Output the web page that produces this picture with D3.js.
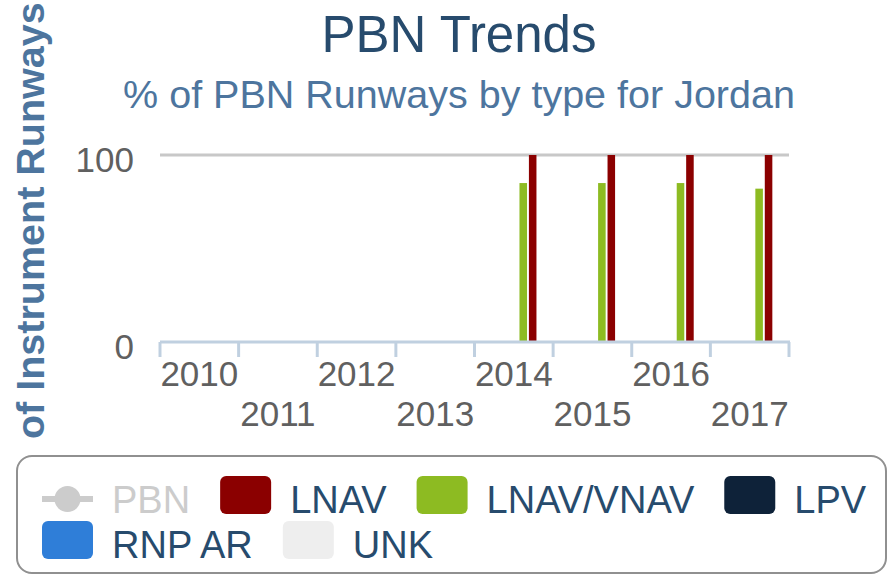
<!DOCTYPE html>
<meta charset="utf-8">
<style>
    body { margin: 0; background: #fff; }
    text { font-family: "Liberation Sans", Arial, sans-serif; }
</style>
<body>
<script src="https://d3js.org/d3.v7.min.js"></script>
<script>

    // chart data
    var years = ["2010", "2011", "2012", "2013", "2014", "2015", "2016", "2017"];
    var lnav = [0, 0, 0, 0, 100, 100, 100, 100];
    var lnavVnav = [0, 0, 0, 0, 85, 85, 85, 82];
    var lpv = [0, 0, 0, 0, 0, 0, 0, 0];
    var rnpAr = [0, 0, 0, 0, 0, 0, 0, 0];
    var unk = [0, 0, 0, 0, 0, 0, 0, 0];
    var yTicks = [0, 100];

    var seriesNames = ["PBN", "LNAV", "LNAV/VNAV", "LPV", "RNP AR", "UNK"];
    var seriesColors = ["#cccccc", "#8b0000", "#8dbb22", "#0e2239", "#2f7ed8", "#eeeeee"];

    // column series, drawn in reverse order like the original
    var columns = [
        { name: "UNK", values: unk, color: "#eeeeee" },
        { name: "RNP AR", values: rnpAr, color: "#2f7ed8" },
        { name: "LPV", values: lpv, color: "#0e2239" },
        { name: "LNAV/VNAV", values: lnavVnav, color: "#8dbb22" },
        { name: "LNAV", values: lnav, color: "#8b0000" }
    ];

    var W = 888, H = 575;
    var plot = { left: 160, right: 789, top: 155, bottom: 342 };

    var svg = d3.select("body").append("svg")
        .attr("width", W)
        .attr("height", H);

    // the chart is cropped, the y title runs out under the legend
    svg.append("clipPath").attr("id", "ytitle-clip")
        .append("rect")
        .attr("x", 0).attr("y", 0)
        .attr("width", 80).attr("height", 446);

    // scales
    var x = d3.scaleBand().domain(years).range([plot.left, plot.right]).padding(0);
    var bw = x.bandwidth();
    var x1 = d3.scaleBand()
        .domain(columns.map(function (c) { return c.name; }))
        .range([bw * 0.2, bw * 0.8])
        .paddingInner(0.2)
        .paddingOuter(0.1);
    var y = d3.scaleLinear().domain([0, 100]).range([plot.bottom, plot.top]);

    // title + subtitle
    svg.append("text")
        .attr("x", 459).attr("y", 52)
        .attr("text-anchor", "middle")
        .style("font-size", "51px")
        .style("fill", "#274b6d")
        .text("PBN Trends");

    svg.append("text")
        .attr("x", 459).attr("y", 108)
        .attr("text-anchor", "middle")
        .style("font-size", "39.5px")
        .style("fill", "#4d759e")
        .text("% of PBN Runways by type for Jordan");

    // y axis title
    var yTitleG = svg.append("g").attr("clip-path", "url(#ytitle-clip)");
    var yTitle = yTitleG.append("text")
        .attr("text-anchor", "start")
        .style("font-size", "39.5px")
        .style("font-weight", "bold")
        .style("fill", "#4d759e")
        .text("% of Instrument Runways");
    var pctW = yTitle.node().getSubStringLength(0, 2);
    yTitle.attr("transform", "translate(44," + (439 + pctW) + ") rotate(-90)");

    // gridlines
    svg.append("g").selectAll("line")
        .data(yTicks.filter(function (d) { return d > 0; }))
        .enter().append("line")
        .attr("x1", plot.left).attr("x2", plot.right)
        .attr("y1", function (d) { return y(d); })
        .attr("y2", function (d) { return y(d); })
        .attr("stroke", "#c8c8c8")
        .attr("stroke-width", 3);

    // y labels
    svg.append("g").selectAll("text")
        .data(yTicks)
        .enter().append("text")
        .attr("x", 134)
        .attr("y", function (d) { return y(d) + 17; })
        .attr("text-anchor", "end")
        .style("font-size", "35px")
        .style("fill", "#606060")
        .text(function (d) { return d; });

    // bars
    columns.forEach(function (c) {
        svg.append("g").selectAll("rect")
            .data(years.map(function (yr, i) { return { yr: yr, v: c.values[i] }; })
                .filter(function (d) { return d.v > 0; }))
            .enter().append("rect")
            .attr("x", function (d) { return x(d.yr) + x1(c.name); })
            .attr("width", x1.bandwidth())
            .attr("y", function (d) { return y(d.v); })
            .attr("height", function (d) { return y(0) - y(d.v); })
            .attr("fill", c.color);
    });

    // x axis line + ticks
    svg.append("line")
        .attr("x1", plot.left).attr("x2", plot.right + 1)
        .attr("y1", plot.bottom).attr("y2", plot.bottom)
        .attr("stroke", "#c0d0e0")
        .attr("stroke-width", 3);

    var tickPos = years.map(function (d) { return x(d); }).concat([plot.right]);
    svg.append("g").selectAll("line")
        .data(tickPos)
        .enter().append("line")
        .attr("x1", function (d) { return d; })
        .attr("x2", function (d) { return d; })
        .attr("y1", plot.bottom)
        .attr("y2", plot.bottom + 15)
        .attr("stroke", "#c0d0e0")
        .attr("stroke-width", 3);

    // staggered x labels
    svg.append("g").selectAll("text")
        .data(years)
        .enter().append("text")
        .attr("x", function (d) { return x(d) + bw / 2; })
        .attr("y", function (d, i) { return i % 2 === 0 ? 386 : 426; })
        .attr("text-anchor", "middle")
        .style("font-size", "35px")
        .style("fill", "#606060")
        .text(function (d) { return d; });

    // legend
    svg.append("rect")
        .attr("x", 17).attr("y", 456)
        .attr("width", 869).attr("height", 117)
        .attr("rx", 15)
        .attr("fill", "#ffffff")
        .attr("stroke", "#909090")
        .attr("stroke-width", 2);

    var lg = svg.append("g");
    var lx = 42, rowY = [513, 558], row = 0, maxX = 870;
    seriesNames.forEach(function (name, i) {
        var g = lg.append("g");
        var t = g.append("text")
            .attr("x", 70)
            .style("font-size", "38px")
            .style("fill", i === 0 ? "#cccccc" : "#274b6d")
            .text(name);
        var itemW = 70 + t.node().getComputedTextLength();
        if (lx + itemW > maxX) { row++; lx = 42; }
        g.attr("transform", "translate(" + lx + "," + rowY[row] + ")");
        if (i === 0) {
            g.append("line")
                .attr("x1", 0).attr("x2", 51)
                .attr("y1", -14).attr("y2", -14)
                .attr("stroke", seriesColors[i])
                .attr("stroke-width", 6);
            g.append("circle")
                .attr("cx", 25.5).attr("cy", -14).attr("r", 13)
                .attr("fill", seriesColors[i]);
        } else {
            g.append("rect")
                .attr("x", 0).attr("y", -37)
                .attr("width", 51).attr("height", 38)
                .attr("rx", 6)
                .attr("fill", seriesColors[i]);
        }
        lx += itemW + 30;
    });

</script>
</body>
